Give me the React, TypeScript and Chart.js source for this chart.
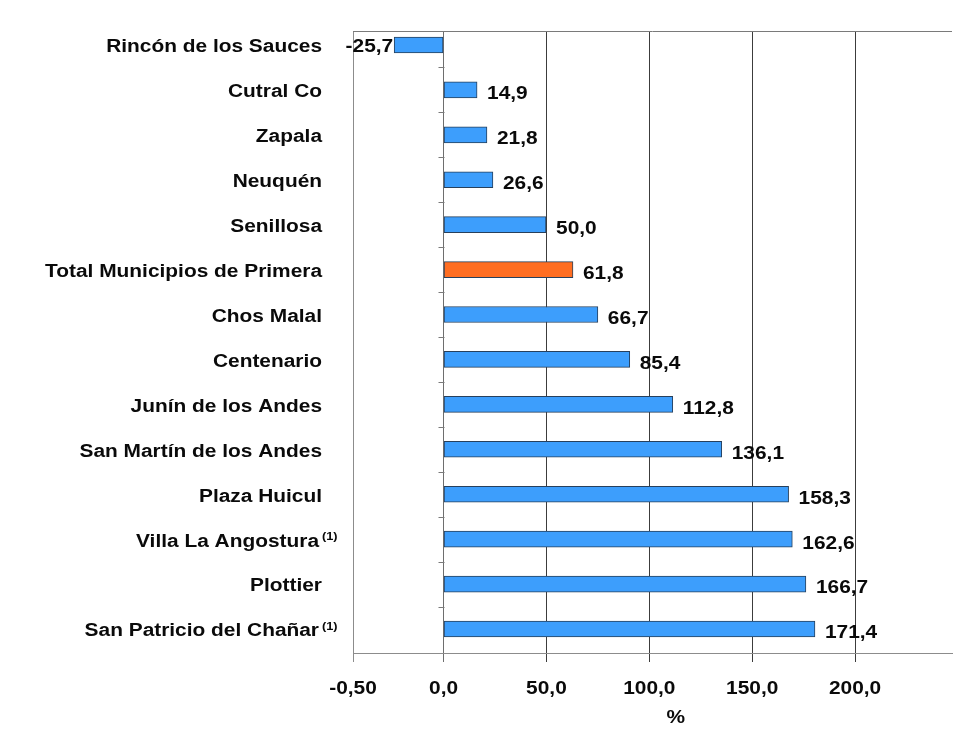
import React, { useEffect, useRef } from 'react';
import { Chart, registerables } from 'chart.js';

Chart.register(...registerables);

// ---------- data ----------
const categories = [
  'Rincón de los Sauces',
  'Cutral Co',
  'Zapala',
  'Neuquén',
  'Senillosa',
  'Total Municipios de Primera',
  'Chos Malal',
  'Centenario',
  'Junín de los Andes',
  'San Martín de los Andes',
  'Plaza Huicul',
  'Villa La Angostura',
  'Plottier',
  'San Patricio del Chañar',
];
const categoryNotes = ['', '', '', '', '', '', '', '', '', '', '', '(1)', '', '(1)'];
// bar lengths as drawn in the picture
const barValues = [-24.0, 16.3, 21.1, 24.0, 49.8, 62.9, 75.0, 90.5, 111.4, 135.2, 167.7, 169.5, 176.1, 180.5];
// value labels as printed in the picture
const valueLabels = ['-25,7', '14,9', '21,8', '26,6', '50,0', '61,8', '66,7', '85,4', '112,8', '136,1', '158,3', '162,6', '166,7', '171,4'];
const highlightedIndex = 5;
const xTickValues = [-44, 0, 50, 100, 150, 200];
const xTickLabels = ['-0,50', '0,0', '50,0', '100,0', '150,0', '200,0'];
const xAxisTitle = '%';
const X_MIN = -44;
const X_MAX = 247.1;

// ---------- style ----------
const BLUE = '#3d9efc';
const ORANGE = '#ff6e22';
const BAR_BORDER = '#27405c';
const FONT = '"Liberation Sans", Arial, Helvetica, sans-serif';
const SX = 1.16; // horizontal text stretch seen in the picture

function drawText(
  ctx: CanvasRenderingContext2D,
  text: string,
  x: number,
  yMid: number,
  align: CanvasTextAlign,
  size: number
) {
  ctx.save();
  ctx.font = `bold ${size}px ${FONT}`;
  ctx.translate(x, yMid + 0.358 * size);
  ctx.scale(SX, 1);
  ctx.textAlign = align;
  ctx.textBaseline = 'alphabetic';
  ctx.fillStyle = '#0a0a0a';
  ctx.fillText(text, 0, 0);
  ctx.restore();
}

const textPlugin = {
  id: 'textPlugin',
  afterDraw(chart: any) {
    const ctx: CanvasRenderingContext2D = chart.ctx;
    const xs = chart.scales.x;
    const ys = chart.scales.y;
    const area = chart.chartArea;

    // top frame line
    ctx.save();
    ctx.strokeStyle = '#7a7a7a';
    ctx.lineWidth = 1;
    ctx.beginPath();
    ctx.moveTo(area.left, Math.round(area.top) + 0.5);
    ctx.lineTo(area.right, Math.round(area.top) + 0.5);
    ctx.stroke();

    // category tick marks on the zero line
    const x0 = Math.round(xs.getPixelForValue(0)) + 0.5;
    ctx.strokeStyle = '#7a7a7a';
    for (let i = 0; i < categories.length - 1; i++) {
      const y = Math.round(ys.getPixelForValue(i + 0.5)) + 0.5;
      ctx.beginPath();
      ctx.moveTo(x0 - 6, y);
      ctx.lineTo(x0, y);
      ctx.stroke();
    }
    ctx.restore();

    // category labels
    categories.forEach((name, i) => {
      const y = ys.getPixelForValue(i) + 1;
      const note = categoryNotes[i];
      if (note) {
        drawText(ctx, name, 311, y, 'right', 18);
        drawText(ctx, note, 314, y - 4, 'left', 11);
      } else {
        drawText(ctx, name, 314, y, 'right', 18);
      }
    });

    // value labels
    barValues.forEach((v, i) => {
      const end = xs.getPixelForValue(v);
      const y = ys.getPixelForValue(i) + 3;
      if (v < 0) {
        drawText(ctx, valueLabels[i], end - 1, y - 2, 'right', 18);
      } else {
        drawText(ctx, valueLabels[i], end + 10, y, 'left', 18);
      }
    });

    // x tick labels
    xTickValues.forEach((v, i) => {
      drawText(ctx, xTickLabels[i], xs.getPixelForValue(v), area.bottom + 35, 'center', 18);
    });

    // axis title
    drawText(ctx, xAxisTitle, (xs.getPixelForValue(100) + xs.getPixelForValue(150)) / 2 - 25, area.bottom + 64, 'center', 18);
  },
};

export default function App() {
  const canvasRef = useRef<HTMLCanvasElement | null>(null);

  useEffect(() => {
    if (!canvasRef.current) return;
    const chart = new Chart(canvasRef.current, {
      type: 'bar',
      data: {
        datasets: [
          {
            data: barValues.map((v, i) => ({ x: v, y: i })),
            backgroundColor: barValues.map((_, i) => (i === highlightedIndex ? ORANGE : BLUE)),
            borderColor: BAR_BORDER,
            borderWidth: 1,
            borderSkipped: false,
            barThickness: 16,
          },
        ],
      },
      options: {
        indexAxis: 'y',
        animation: false,
        responsive: false,
        maintainAspectRatio: false,
        layout: { padding: { left: 345, top: 23, right: 3, bottom: 0 } },
        plugins: {
          legend: { display: false },
          tooltip: { enabled: false },
        },
        scales: {
          x: {
            type: 'linear',
            position: 'bottom',
            min: X_MIN,
            max: X_MAX,
            z: 1,
            afterBuildTicks: (scale: any) => {
              scale.ticks = xTickValues.map((v) => ({ value: v }));
            },
            afterFit: (scale: any) => {
              scale.height = 73;
            },
            ticks: { display: false },
            grid: {
              drawTicks: true,
              tickLength: 9,
              lineWidth: 1,
              color: (c: any) => {
                const v = c.tick ? c.tick.value : 0;
                if (v === X_MIN) return '#8c8c8c';
                if (v === 0) return '#6e6e6e';
                return '#3c3c3c';
              },
              tickColor: (c: any) => {
                const v = c.tick ? c.tick.value : 0;
                if (v === X_MIN) return '#8c8c8c';
                if (v === 0) return '#6e6e6e';
                return '#3c3c3c';
              },
            },
            border: { display: true, color: '#8c8c8c', width: 1 },
          },
          y: {
            type: 'linear',
            display: false,
            reverse: true,
            offset: false,
            min: -0.312,
            max: 13.535,
          },
        },
      },
      plugins: [textPlugin],
    } as any);
    return () => chart.destroy();
  }, []);

  return (
    <div
      style={{
        margin: '-1px 0 0 -1px',
        borderTop: '1px solid #c6c6c6',
        borderLeft: '1px solid #c6c6c6',
        width: 948,
        height: 718,
        overflow: 'hidden',
        background: '#fff',
      }}
    >
      <canvas ref={canvasRef} width={947} height={718} style={{ display: 'block' }} />
    </div>
  );
}
